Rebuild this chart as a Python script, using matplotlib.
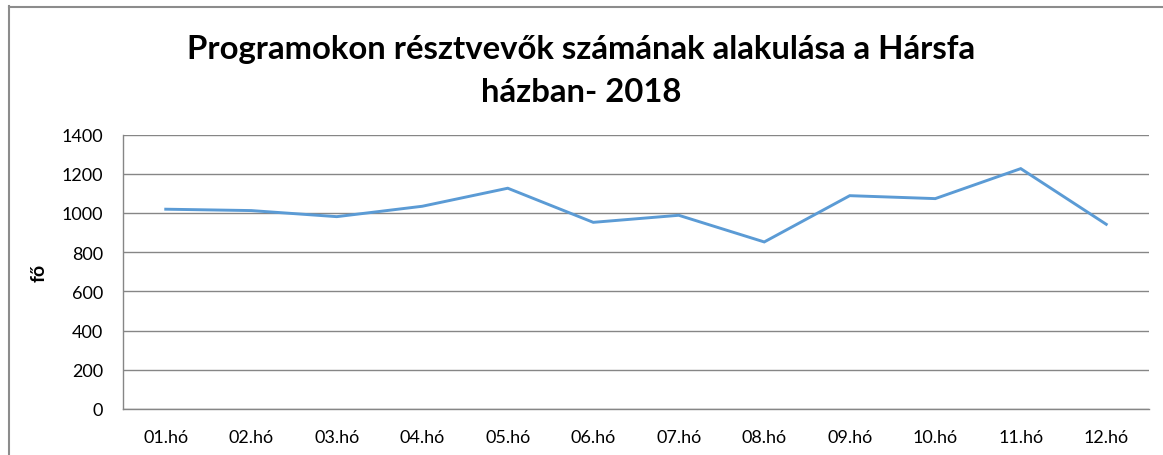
import matplotlib
matplotlib.use("Agg")
import matplotlib.pyplot as plt
from matplotlib.lines import Line2D

months = ["01.hó", "02.hó", "03.hó", "04.hó", "05.hó", "06.hó",
          "07.hó", "08.hó", "09.hó", "10.hó", "11.hó", "12.hó"]
participants = [1019, 1012, 981, 1034, 1126, 952, 988, 852, 1088, 1073, 1226, 942]
yticks = [0, 200, 400, 600, 800, 1000, 1200, 1400]
title = "Programokon résztvevők számának alakulása a Hársfa\nházban- 2018"
ylabel = "fő"

W, H = 1163, 456
fig = plt.figure(figsize=(W / 100, H / 100), dpi=100)
plt.rcParams['font.family'] = ['Lato', 'DejaVu Sans']

left, right, top, bottom = 123, 1149, 135.5, 410
ax = fig.add_axes([left / W, (H - bottom) / H, (right - left) / W, (bottom - top) / H])

x = list(range(len(months)))
ax.plot(x, participants, color="#5B9BD5", linewidth=2.1, solid_joinstyle="miter", zorder=3)

ax.set_xlim(-0.5, len(months) - 0.5)
ax.set_ylim(0, 1400)
ax.set_yticks(yticks)
ax.set_yticklabels([str(v) for v in yticks], fontsize=13)
ax.set_xticks(x)
ax.set_xticklabels(months, fontsize=13)
ax.tick_params(axis="both", length=0, colors="#000000")
ax.tick_params(axis="y", pad=14.5)
ax.tick_params(axis="x", pad=14.5)

ax.grid(axis="y", color="#868686", linewidth=1.0, zorder=1)
for sp in ["top", "right"]:
    ax.spines[sp].set_visible(False)
for sp in ["left", "bottom"]:
    ax.spines[sp].set_color("#868686")
    ax.spines[sp].set_linewidth(1.0)

ax.set_ylabel(ylabel, fontsize=14, fontweight="bold", labelpad=10)

fig.text(0.5, 1 - 71 / H, title, ha="center", va="center", fontsize=23.7,
         fontweight="bold", linespacing=1.6)

# outer chart frame (left and top edges visible)
fig.add_artist(Line2D([8.5 / W, 8.5 / W], [0, 1 - 7 / H], color="#8c8c8c", linewidth=1.5,
                      transform=fig.transFigure))
fig.add_artist(Line2D([8.5 / W, 1], [1 - 7.5 / H, 1 - 7.5 / H], color="#8c8c8c", linewidth=1.5,
                      transform=fig.transFigure))

fig.savefig("out.png", dpi=100)
